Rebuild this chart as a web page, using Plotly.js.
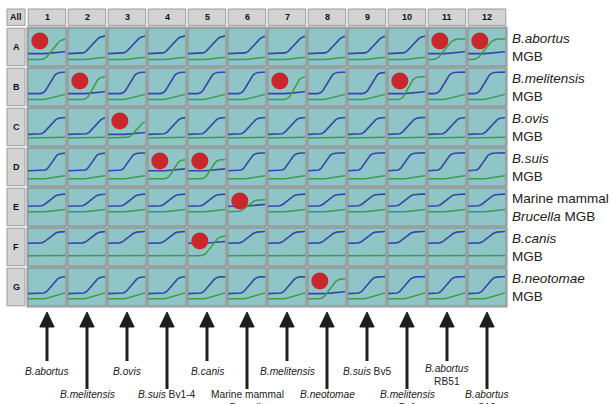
<!DOCTYPE html>
<html><head><meta charset="utf-8">
<script src="https://cdn.plot.ly/plotly-3.0.1.min.js"></script>
<style>html,body{margin:0;padding:0;background:#fff}#chart{width:612px;height:404px}</style>
</head><body><div id="chart"></div>
<script>
// ---- data ----
const rowLabels = ['A','B','C','D','E','F','G'];
const colLabels = ['1','2','3','4','5','6','7','8','9','10','11','12'];
const probeLabels = [
  '<i>B.abortus</i><br>MGB',
  '<i>B.melitensis</i><br>MGB',
  '<i>B.ovis</i><br>MGB',
  '<i>B.suis</i><br>MGB',
  'Marine mammal<br><i>Brucella</i> MGB',
  '<i>B.canis</i><br>MGB',
  '<i>B.neotomae</i><br>MGB'
];
const strainLabels = [
  '<i>B.abortus</i>', '<i>B.melitensis</i>', '<i>B.ovis</i>', '<i>B.suis</i> Bv1-4',
  '<i>B.canis</i>', 'Marine mammal<br><i>Brucella</i>', '<i>B.melitensis</i>', '<i>B.neotomae</i>',
  '<i>B.suis</i> Bv5', '<i>B.melitensis</i><br>Bv1', '<i>B.abortus</i><br>RB51', '<i>B.abortus</i><br>S19'
];
const strainLong = [false,true,false,true,false,true,false,true,false,true,false,true];
const positiveWells = ['A1','A11','A12','B2','B7','B10','C3','D4','D5','E6','F5','G8'];

// fluorescence levels per row (fraction of well height)
const blueBase    = [0.32, 0.32, 0.30, 0.40, 0.52, 0.60, 0.32];
const blueTop     = [0.80, 0.90, 0.76, 0.88, 0.85, 0.92, 0.78];
const greenBase   = [0.16, 0.16, 0.20, 0.18, 0.37, 0.26, 0.18];
const greenEnd    = [0.22, 0.30, 0.22, 0.26, 0.43, 0.27, 0.34];
const greenPosTop = [0.72, 0.78, 0.66, 0.70, 0.70, 0.80, 0.72];
const riseStretch = [1.6, 1.25, 1.5, 1.2, 1.5, 1.5, 1.4];
// half-rise position per well (fraction of well width)
const riseMid = [
  [0.68,0.66,0.68,0.66,0.66,0.72,0.72,0.72,0.72,0.68,0.47,0.47],
  [0.60,0.68,0.60,0.60,0.53,0.55,0.72,0.53,0.66,0.55,0.45,0.45],
  [0.60,0.74,0.78,0.68,0.62,0.60,0.62,0.60,0.60,0.55,0.64,0.64],
  [0.66,0.66,0.55,0.70,0.62,0.55,0.58,0.48,0.48,0.47,0.47,0.42],
  [0.60,0.62,0.60,0.58,0.58,0.55,0.55,0.55,0.52,0.47,0.50,0.52],
  [0.60,0.64,0.55,0.58,0.65,0.55,0.55,0.55,0.52,0.47,0.55,0.55],
  [0.66,0.66,0.64,0.66,0.58,0.58,0.58,0.60,0.52,0.47,0.50,0.52]
];
// amplification curve shape (offset from half-rise, normalised signal)
const riseDt = [-1.0, -0.22, -0.16, -0.11, -0.06, 0.0, 0.05, 0.10, 0.15, 0.21, 0.30, 1.0];
const riseV  = [0.0, 0.0, 0.04, 0.13, 0.30, 0.52, 0.73, 0.87, 0.95, 0.99, 1.0, 1.03];
const driftT = [0.0, 0.45, 1.0];
const driftV = [0.0, 0.0, 1.0];

// ---- drawing ----
const TEAL = '#90c5c7', BLUE = '#3546a8', GREEN = '#3c9c48';

function clip(ts, fs) {
  const out = [];
  for (let i = 0; i < ts.length; i++) {
    const inside = ts[i] >= 0 && ts[i] <= 1;
    if (i > 0) {
      const a = ts[i-1], b = ts[i];
      [0, 1].forEach(edge => {
        if ((a - edge) * (b - edge) < 0) {
          const k = (edge - a) / (b - a);
          out.push([edge, fs[i-1] + k * (fs[i] - fs[i-1])]);
        }
      });
    }
    if (inside) out.push([ts[i], fs[i]]);
  }
  out.sort((p, q) => p[0] - q[0]);
  return out;
}

const blue = {x: [], y: []}, green = {x: [], y: []}, dots = {x: [], y: []};
function addCurve(tr, r, c, pts) {
  pts.forEach(p => {
    tr.x.push(c - 1 + 0.03 + p[0] * 0.92);
    tr.y.push(r + 1 - 0.04 - p[1] * 0.92);
  });
  tr.x.push(null); tr.y.push(null);
}

for (let r = 0; r < rowLabels.length; r++) {
  for (let c = 1; c <= colLabels.length; c++) {
    const pos = positiveWells.includes(rowLabels[r] + colLabels[c-1]);
    const mid = riseMid[r][c-1], s = riseStretch[r];
    const rt = riseDt.map(d => mid + d * s);
    if (pos) {
      addCurve(blue, r, c, clip(driftT, driftV.map(v => blueBase[r] + 0.05 * v)));
      addCurve(green, r, c, clip(rt, riseV.map(v => greenBase[r] + (greenPosTop[r] - greenBase[r]) * v)));
      dots.x.push(c - 1 + 0.32); dots.y.push(r + 0.35);
    } else {
      addCurve(blue, r, c, clip(rt, riseV.map(v => blueBase[r] + (blueTop[r] - blueBase[r]) * v)));
      addCurve(green, r, c, clip(driftT, driftV.map(v => greenBase[r] + (greenEnd[r] - greenBase[r]) * v)));
    }
  }
}

const shapes = [];
const nR = rowLabels.length, nC = colLabels.length;
// grid background
shapes.push({type:'rect', layer:'below', x0:-0.02, x1:nC + 0.02, y0:-0.02, y1:nR + 0.02,
  fillcolor:'#b4b4b4', line:{width:0}});
for (let r = 0; r < nR; r++) for (let c = 0; c < nC; c++) {
  shapes.push({type:'rect', layer:'below', x0:c + 0.025, x1:c + 0.975, y0:r + 0.025, y1:r + 0.975,
    fillcolor:TEAL, line:{color:'#8a8a8a', width:1}});
}
// header cells
const hdr = {fillcolor:'#d3d3d3', line:{color:'#9c9c9c', width:1}, layer:'below', type:'rect'};
shapes.push(Object.assign({}, hdr, {x0:-0.5, x1:-0.05, y0:-0.45, y1:-0.04}));
for (let c = 0; c < nC; c++) shapes.push(Object.assign({}, hdr, {x0:c + 0.03, x1:c + 0.97, y0:-0.45, y1:-0.04}));
for (let r = 0; r < nR; r++) shapes.push(Object.assign({}, hdr, {x0:-0.5, x1:-0.05, y0:r + 0.03, y1:r + 0.97}));

const annotations = [];
const hfont = {family:'Liberation Sans, Arial', size:9, color:'#111', weight:'bold'};
annotations.push({x:-0.275, y:-0.245, text:'<b>All</b>', showarrow:false, font:hfont});
colLabels.forEach((t, i) => annotations.push({x:i + 0.5, y:-0.245, text:'<b>' + t + '</b>', showarrow:false, font:hfont}));
rowLabels.forEach((t, i) => annotations.push({x:-0.275, y:i + 0.5, text:'<b>' + t + '</b>', showarrow:false, font:hfont}));
probeLabels.forEach((t, i) => annotations.push({x:12.08, y:i + 0.5, text:t, showarrow:false,
  xanchor:'left', yanchor:'middle', align:'left', font:{family:'Liberation Sans, Arial', size:13.5, color:'#222'}}));

// arrows and strain labels
strainLabels.forEach((t, i) => {
  const u = i + 0.5, tip = 7.125, base = 7.5;
  const end = strainLong[i] ? 9.05 : 8.35;
  shapes.push({type:'line', x0:u, x1:u, y0:base - 0.05, y1:end, line:{color:'#1e1e1e', width:3}});
  shapes.push({type:'path', path:`M${u - 0.18},${base} L${u},${tip} L${u + 0.18},${base} Z`,
    fillcolor:'#1e1e1e', line:{color:'#1e1e1e', width:1}});
  const twoLine = t.includes('<br>');
  const top = strainLong[i] ? 9.0 : (twoLine ? 8.36 : 8.43);
  annotations.push({x:u, y:top, text:t, showarrow:false, xanchor:'center', yanchor:'top',
    font:{family:'Liberation Sans, Arial', size:10.2, color:'#222'}, align:'center'});
});

const data = [
  {type:'scatter', mode:'lines', x:blue.x, y:blue.y, line:{color:BLUE, width:1.6}, hoverinfo:'skip', connectgaps:false},
  {type:'scatter', mode:'lines', x:green.x, y:green.y, line:{color:GREEN, width:1.5}, hoverinfo:'skip', connectgaps:false},
  {type:'scatter', mode:'markers', x:dots.x, y:dots.y, marker:{color:'#c8282b', size:17, line:{width:0}}, hoverinfo:'skip'}
];
const layout = {
  width:612, height:404, margin:{l:0, r:0, t:0, b:0},
  paper_bgcolor:'#fff', plot_bgcolor:'#fff', showlegend:false,
  xaxis:{range:[-27/40, 585/40], domain:[0,1], visible:false, fixedrange:true},
  yaxis:{range:[377/40, -27/40], domain:[0,1], visible:false, fixedrange:true},
  shapes:shapes, annotations:annotations
};
Plotly.newPlot('chart', data, layout, {staticPlot:true, displayModeBar:false});
</script></body></html>
